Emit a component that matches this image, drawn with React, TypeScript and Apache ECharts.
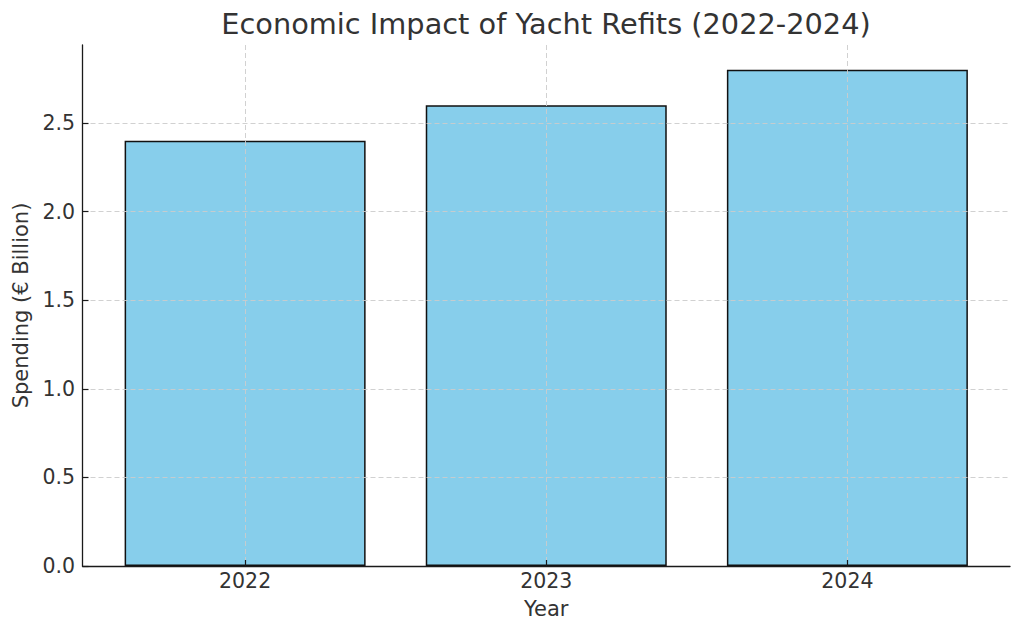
import { useEffect, useRef } from "react";
import * as echarts from "echarts";

const years = ["2022", "2023", "2024"];
const spending = [2.4, 2.6, 2.8];
const yTicks = [0, 0.5, 1.0, 1.5, 2.0, 2.5];

const FONT = "DejaVu Sans";
const TEXT = "#333333";

export default function App(): JSX.Element {
  const chartRef = useRef<HTMLDivElement>(null);
  useEffect(() => {
    const chart = echarts.init(chartRef.current, null, { renderer: "svg" });
    const positions = years.map((_, i) => i);
    chart.setOption({
      animation: false,
      backgroundColor: "#ffffff",
      textStyle: { fontFamily: FONT, color: TEXT },
      title: {
        text: "Economic Impact of Yacht Refits (2022-2024)",
        left: 533,
        top: -4,
        textAlign: "center",
        textStyle: { fontFamily: FONT, fontSize: 28.8, fontWeight: "normal", color: TEXT },
      },
      grid: { left: 74.5, right: 6, top: 37, bottom: 61, outerBoundsMode: "none" },
      xAxis: {
        type: "value",
        min: -0.54,
        max: 2.54,
        z: 3,
        name: "Year",
        nameLocation: "middle",
        nameGap: 32,
        nameTextStyle: { fontFamily: FONT, fontSize: 21, color: TEXT },
        axisLine: { show: true, onZero: false, lineStyle: { color: "#1a1a1a", width: 1.3 } },
        axisTick: { show: true, inside: true, length: 6, customValues: positions, lineStyle: { color: "#1a1a1a", width: 1.2 } },
        axisLabel: {
          customValues: positions,
          formatter: (v: number) => years[Math.round(v)] ?? "",
          fontFamily: FONT,
          fontSize: 20.5,
          color: TEXT,
          margin: 4,
        },
        splitLine: { show: true, lineStyle: { color: "#cccccc", type: [5, 3], width: 0.9 } },
      },
      yAxis: {
        type: "value",
        min: 0,
        max: 2.94,
        z: 3,
        name: "Spending (€ Billion)",
        nameLocation: "middle",
        nameGap: 47,
        nameTextStyle: { fontFamily: FONT, fontSize: 21, color: TEXT },
        axisLine: { show: true, onZero: false, lineStyle: { color: "#1a1a1a", width: 1.3 } },
        axisTick: { show: true, inside: true, length: 6, customValues: yTicks, lineStyle: { color: "#1a1a1a", width: 1.2 } },
        axisLabel: {
          customValues: yTicks,
          formatter: (v: number) => v.toFixed(1),
          fontFamily: FONT,
          fontSize: 20.5,
          color: TEXT,
          margin: 7.5,
        },
        splitLine: { show: true, lineStyle: { color: "#cccccc", type: [5, 3], width: 0.9 } },
      },
      series: [
        {
          type: "bar",
          data: spending.map((v, i) => [i, v]),
          barWidth: 241,
          itemStyle: { color: "#87ceeb", borderColor: "#111111", borderWidth: 1.5 },
        },
      ],
    });
    return () => {
      chart.dispose();
    };
  }, []);

  return <div ref={chartRef} style={{ width: 1008, height: 619 }}></div>;
}
